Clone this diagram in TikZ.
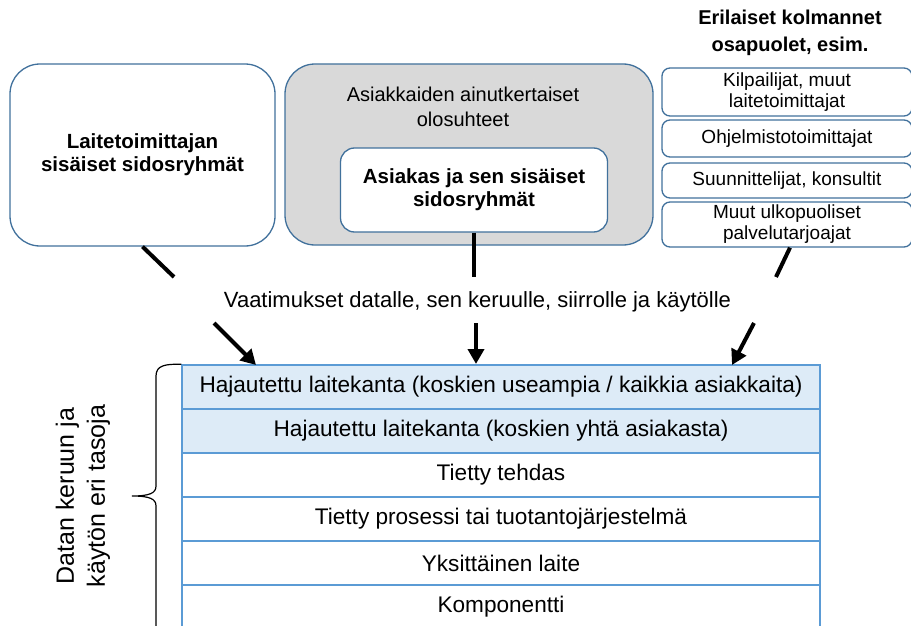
\documentclass[tikz,border=0pt]{standalone}
\usepackage{fontspec}
\setmainfont{Liberation Sans}
\usetikzlibrary{arrows.meta}
\definecolor{bordr}{HTML}{41719C}
\definecolor{tblb}{HTML}{5B9BD5}
\definecolor{tblfill}{HTML}{DDEBF7}
\definecolor{graybox}{HTML}{D9D9D9}
\begin{document}
\begin{tikzpicture}[x=1pt,y=-1pt,
  rbox/.style={draw=bordr, line width=1.3pt, rounded corners=#1, align=center, inner sep=0pt, fill=white},
  boldtxt/.style={font=\fontsize{20.5}{23}\selectfont\bfseries},
  smalltxt/.style={font=\fontsize{19}{21}\selectfont},
  rowbox/.style={draw=tblb, line width=1.5pt, minimum width=638pt, minimum height=44pt, inner sep=0pt, font=\fontsize{22.6}{26}\selectfont},
  conn/.style={line width=4pt},
  arr/.style={line width=4pt, -{Triangle[length=15pt,width=16pt]}},
  brace/.style={line width=1.2pt}
]
\useasboundingbox (0,0) rectangle (911,626);
\clip (0,0) rectangle (911,626);

% top-left box
\node[rbox=30pt, minimum width=265pt, minimum height=182pt, boldtxt] (lt) at (142.5,155) {Laitetoimittajan\\sisäiset sidosryhmät};

% middle grey box
\node[rbox=30pt, fill=graybox, minimum width=368pt, minimum height=181pt] (ac) at (469,154.5) {};
\node[align=center, inner sep=0pt, font=\fontsize{20}{25}\selectfont] (acl) at (463,107) {Asiakkaiden ainutkertaiset\\olosuhteet};
\node[rbox=14pt, minimum width=267pt, minimum height=84pt, boldtxt] (as) at (474,190) {Asiakas ja sen sisäiset\\sidosryhmät};

% right column
\node[align=center, inner sep=0pt, font=\fontsize{20}{27}\selectfont\bfseries] (hdr) at (790,33) {Erilaiset kolmannet\\osapuolet, esim.};
\node[rbox=8pt, minimum width=250pt, minimum height=48pt, smalltxt] (r1) at (787,92) {Kilpailijat, muut\\laitetoimittajat};
\node[rbox=8pt, minimum width=250pt, minimum height=37pt, smalltxt] (r2) at (787,138.5) {Ohjelmistotoimittajat};
\node[rbox=8pt, minimum width=250pt, minimum height=35pt, smalltxt] (r3) at (787,180.5) {Suunnittelijat, konsultit};
\node[rbox=8pt, minimum width=250pt, minimum height=45pt, smalltxt] (r4) at (787,224.5) {Muut ulkopuoliset\\palvelutarjoajat};

% requirements text
\node[inner sep=0pt, font=\fontsize{22}{26}\selectfont] (req) at (477.5,302) {Vaatimukset datalle, sen keruulle, siirrolle ja käytölle};

% table
\node[rowbox, fill=tblfill] (t1) at (501,387) {Hajautettu laitekanta (koskien useampia / kaikkia asiakkaita)};
\node[rowbox, fill=tblfill] (t2) at (501,431) {Hajautettu laitekanta (koskien yhtä asiakasta)};
\node[rowbox] (t3) at (501,475) {Tietty tehdas};
\node[rowbox] (t4) at (501,519) {Tietty prosessi tai tuotantojärjestelmä};
\node[rowbox] (t5) at (501,563) {Yksittäinen laite};
\node[rowbox] (t6) at (501,607) {Komponentti};

% connectors
\coordinate (la) at (174,277);
\coordinate (lb) at (214,323);
\coordinate (lc) at (256,365);
\coordinate (ma) at (474,277);
\coordinate (mb) at (476,323);
\coordinate (mc) at (476,364);
\coordinate (ra) at (776,277);
\coordinate (rb) at (754,323);
\coordinate (rc) at (732,365);
\draw[conn] (lt.south) -- (la);
\draw[arr] (lb) -- (lc);
\draw[conn] (as.south -| ma) -- (ma);
\draw[arr] (mb) -- (mc);
\draw[conn] (r4.south) ++(3,0) -- (ra);
\draw[arr] (rb) -- (rc);

% brace
\draw[brace] (t1.north west) .. controls (166,364) and (156,365) .. (156,376) -- (156,486)
  .. controls (156,493) and (150,496) .. (132,496)
  .. controls (150,496) and (156,499) .. (156,506) -- (156,640);

% rotated label
\node[rotate=90, align=center, inner sep=0pt, font=\fontsize{25}{31}\selectfont] (lbl) at (83,496) {Datan keruun ja\\käytön eri tasoja};
\end{tikzpicture}
\end{document}
